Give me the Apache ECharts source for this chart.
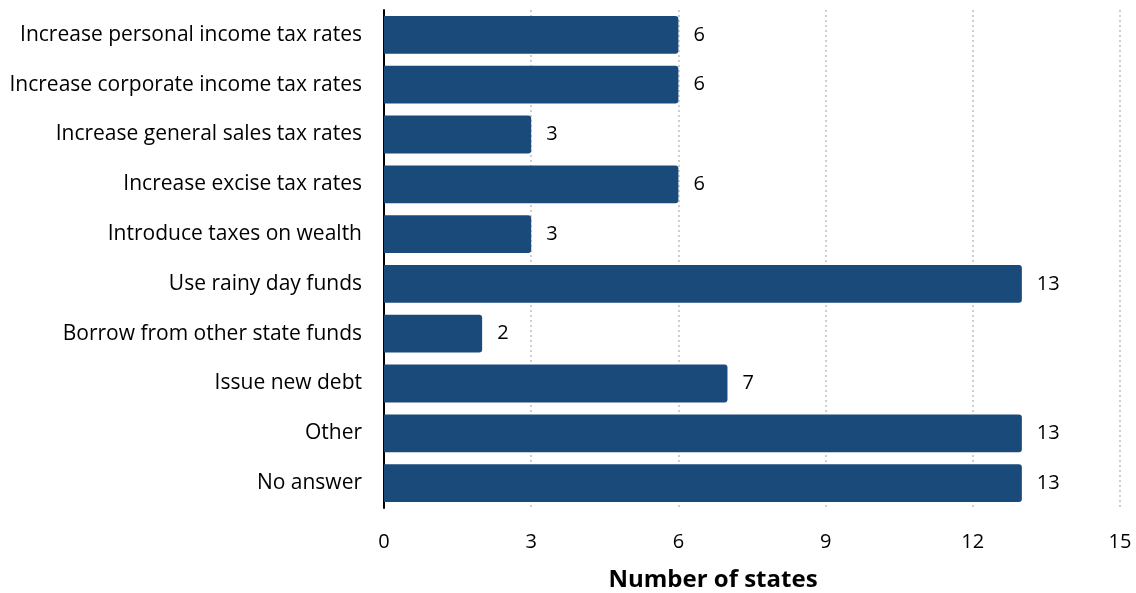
<!DOCTYPE html>
<html>
<head>
<meta charset="utf-8">
<script src="https://cdn.jsdelivr.net/npm/echarts@6/dist/echarts.min.js"></script>
<style>
  html, body { margin: 0; padding: 0; background: #fff; }
  #chart { width: 1136px; height: 593px; }
</style>
</head>
<body>
<div id="chart"></div>
<script>
// Budget measures reported by states, top to bottom
const categories = [
  'Increase personal income tax rates',
  'Increase corporate income tax rates',
  'Increase general sales tax rates',
  'Increase excise tax rates',
  'Introduce taxes on wealth',
  'Use rainy day funds',
  'Borrow from other state funds',
  'Issue new debt',
  'Other',
  'No answer'
];
const stateCounts = [6, 6, 3, 6, 3, 13, 2, 7, 13, 13];
const xTicks = [0, 3, 6, 9, 12, 15];

const FONT = '"Open Sans", Lato, sans-serif';

const chart = echarts.init(document.getElementById('chart'));
chart.setOption({
  animation: false,
  grid: { left: 384, right: 16, top: 10, bottom: 85, outerBoundsMode: 'none' },
  xAxis: {
    type: 'value',
    min: xTicks[0],
    max: xTicks[xTicks.length - 1],
    interval: xTicks[1] - xTicks[0],
    name: 'Number of states',
    nameLocation: 'middle',
    nameGap: 60,
    nameTextStyle: {
      fontFamily: FONT, fontSize: 24, fontWeight: 'bold', color: '#000',
      padding: [0, 78, 0, 0]
    },
    axisLine: { show: false },
    axisTick: { show: false },
    axisLabel: { fontFamily: FONT, fontSize: 20, color: '#000', margin: 24 },
    splitLine: { show: true, lineStyle: { color: '#cfcfcf', type: [2, 3], width: 2 } }
  },
  yAxis: {
    type: 'category',
    data: categories,
    inverse: true,
    axisLine: { show: true, lineStyle: { color: '#000', width: 2 } },
    axisTick: { show: false },
    axisLabel: { fontFamily: FONT, fontSize: 21, color: '#000', margin: 22 }
  },
  series: [{
    type: 'bar',
    data: stateCounts,
    barCategoryGap: '24%',
    itemStyle: { color: '#1a4a7a', borderRadius: [0, 3, 3, 0] },
    label: {
      show: true,
      position: 'right',
      distance: 15,
      fontFamily: FONT,
      fontSize: 20,
      color: '#000'
    }
  }]
});
</script>
</body>
</html>
